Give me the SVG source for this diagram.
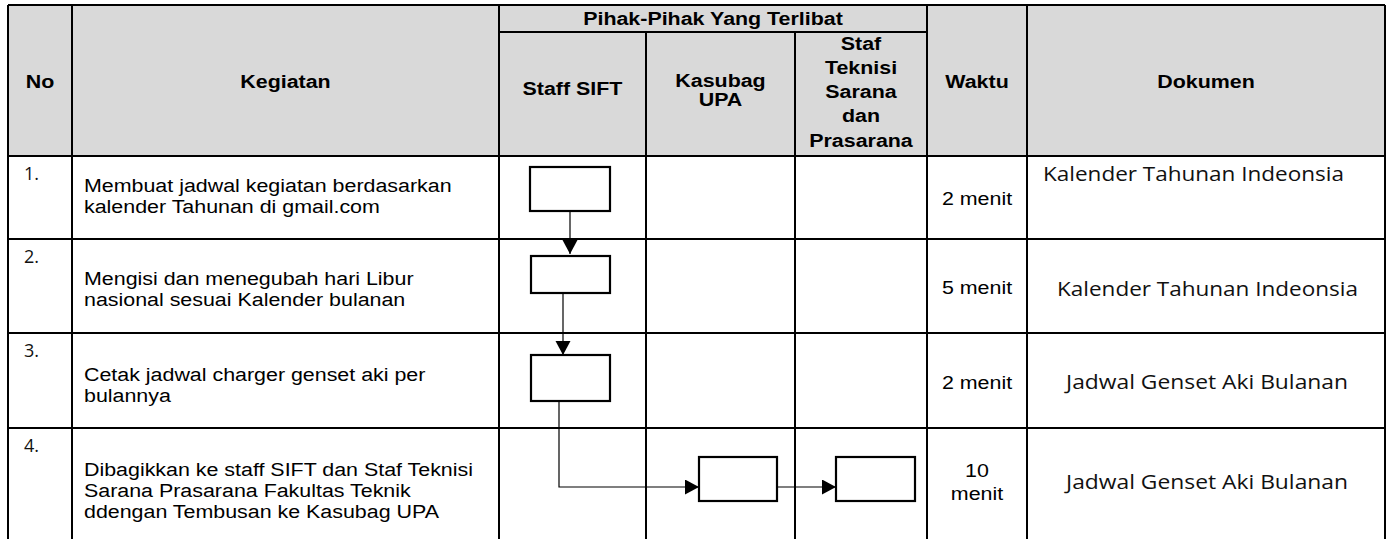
<svg xmlns="http://www.w3.org/2000/svg" width="1392" height="539" viewBox="0 0 1392 539">
<defs>
<style>
.grid{stroke:#000;stroke-width:2;fill:none}
.box{fill:#fff;stroke:#000;stroke-width:2.2}
.conn{stroke:#000;stroke-width:1.2;fill:none}
.h{font-family:"Liberation Sans",Arial,sans-serif;font-weight:bold;font-size:18px;fill:#000}
.t{font-family:"Liberation Sans",Arial,sans-serif;font-size:18px;fill:#000}
.d{font-family:"Open Sans","Noto Sans",sans-serif;font-size:20px;fill:#111}
.n{font-family:"Open Sans","Noto Sans",sans-serif;font-size:18px;fill:#111}
.m{text-anchor:middle}
</style>
<marker id="ah" markerUnits="userSpaceOnUse" markerWidth="15" markerHeight="16" refX="14" refY="7.5" orient="auto">
<path d="M0,0 L14,7.5 L0,15 z" fill="#000"/>
</marker>
</defs>
<rect x="0" y="0" width="1392" height="539" fill="#fff"/>
<g id="table">
<rect x="8" y="5" width="1377" height="151" fill="#d9d9d9"/>
<path class="grid" d="M8,5 H1385 M499,32 H927 M8,156 H1385 M8,239 H1385 M8,333 H1385 M8,428 H1385 M8,5 V539 M72,5 V539 M499,5 V539 M927,5 V539 M1027,5 V539 M1385,5 V539 M646,32 V539 M795,32 V539"/>
<g id="header">
<text class="h m" transform="translate(40 88) scale(1.19 1)">No</text>
<text class="h m" transform="translate(285.5 88) scale(1.19 1)">Kegiatan</text>
<text class="h m" transform="translate(713 25) scale(1.19 1)">Pihak-Pihak Yang Terlibat</text>
<text class="h m" transform="translate(572.5 95) scale(1.19 1)">Staff SIFT</text>
<text class="h m" transform="translate(720.5 87) scale(1.19 1)">Kasubag</text>
<text class="h m" transform="translate(720.5 106) scale(1.19 1)">UPA</text>
<text class="h m" transform="translate(861 50) scale(1.19 1)">Staf</text>
<text class="h m" transform="translate(861 74) scale(1.19 1)">Teknisi</text>
<text class="h m" transform="translate(861 98) scale(1.19 1)">Sarana</text>
<text class="h m" transform="translate(861 122) scale(1.19 1)">dan</text>
<text class="h m" transform="translate(861 147) scale(1.19 1)">Prasarana</text>
<text class="h m" transform="translate(977 88) scale(1.19 1)">Waktu</text>
<text class="h m" transform="translate(1206 88) scale(1.19 1)">Dokumen</text>
</g>
<g id="row1">
<text class="n" x="24" y="180">1.</text>
<text class="t" transform="translate(84 192) scale(1.19 1)">Membuat jadwal kegiatan berdasarkan</text>
<text class="t" transform="translate(84 213) scale(1.19 1)">kalender Tahunan di gmail.com</text>
<text class="t m" transform="translate(977 205) scale(1.19 1)">2 menit</text>
<text class="d" x="1043" y="181" textLength="301" lengthAdjust="spacingAndGlyphs">Kalender Tahunan Indeonsia</text>
</g>
<g id="row2">
<text class="n" x="24" y="263">2.</text>
<text class="t" transform="translate(84 285) scale(1.19 1)">Mengisi dan menegubah hari Libur</text>
<text class="t" transform="translate(84 306) scale(1.19 1)">nasional sesuai Kalender bulanan</text>
<text class="t m" transform="translate(977 294) scale(1.19 1)">5 menit</text>
<text class="d" x="1057" y="296" textLength="301" lengthAdjust="spacingAndGlyphs">Kalender Tahunan Indeonsia</text>
</g>
<g id="row3">
<text class="n" x="24" y="357">3.</text>
<text class="t" transform="translate(84 381) scale(1.19 1)">Cetak jadwal charger genset aki per</text>
<text class="t" transform="translate(84 402) scale(1.19 1)">bulannya</text>
<text class="t m" transform="translate(977 389) scale(1.19 1)">2 menit</text>
<text class="d" x="1066" y="389" textLength="282" lengthAdjust="spacingAndGlyphs">Jadwal Genset Aki Bulanan</text>
</g>
<g id="row4">
<text class="n" x="24" y="452">4.</text>
<text class="t" transform="translate(84 476) scale(1.19 1)">Dibagikkan ke staff SIFT dan Staf Teknisi</text>
<text class="t" transform="translate(84 497) scale(1.19 1)">Sarana Prasarana Fakultas Teknik</text>
<text class="t" transform="translate(84 518) scale(1.19 1)">ddengan Tembusan ke Kasubag UPA</text>
<text class="t m" transform="translate(977 477) scale(1.19 1)">10</text>
<text class="t m" transform="translate(977 500) scale(1.19 1)">menit</text>
<text class="d" x="1066" y="489" textLength="282" lengthAdjust="spacingAndGlyphs">Jadwal Genset Aki Bulanan</text>
</g>
</g>
<g id="connectors">
<path class="conn" d="M570,211 V254" marker-end="url(#ah)"/>
<path class="conn" d="M563,293 V355" marker-end="url(#ah)"/>
<path class="conn" d="M559,401 V487 H699" marker-end="url(#ah)"/>
<path class="conn" d="M777,487 H836" marker-end="url(#ah)"/>
</g>
<g id="node1"><rect class="box" x="530" y="167" width="80" height="44"/></g>
<g id="node2"><rect class="box" x="531" y="256" width="79" height="37"/></g>
<g id="node3"><rect class="box" x="531" y="355" width="79" height="46"/></g>
<g id="node4"><rect class="box" x="699" y="457" width="78" height="44"/></g>
<g id="node5"><rect class="box" x="836" y="457" width="79" height="44"/></g>
</svg>
